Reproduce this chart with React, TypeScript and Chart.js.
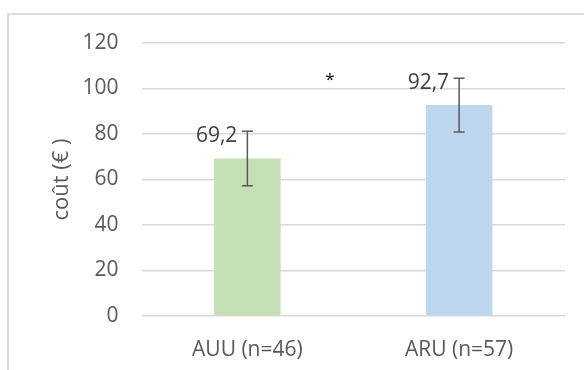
import React, { useEffect, useRef } from "react";
import { Chart, registerables } from "chart.js";

Chart.register(...registerables);

const categories = ["AUU (n=46)", "ARU (n=57)"];
const meanCost = [69.2, 92.7];
const errorCost = [12.0, 11.8];
const barColors = ["#C5E0B4", "#BDD7EE"];
const yMin = 0;
const yMax = 120;
const yStep = 20;
const yTitle = "coût (€ )";
const significanceMark = "*";

const FONT = "'Open Sans', 'Noto Sans', sans-serif";

const errorBarPlugin = {
  id: "errorBars",
  afterDatasetsDraw(chart: any) {
    const ctx = chart.ctx;
    const meta = chart.getDatasetMeta(0);
    const ys = chart.scales.y;
    const xs = chart.scales.x;
    ctx.save();
    meta.data.forEach((bar: any, i: number) => {
      const x = bar.x;
      const top = ys.getPixelForValue(meanCost[i] + errorCost[i]);
      const bot = ys.getPixelForValue(meanCost[i] - errorCost[i]);
      ctx.strokeStyle = "#595959";
      ctx.lineWidth = 1.5;
      ctx.beginPath();
      ctx.moveTo(x, top);
      ctx.lineTo(x, bot);
      ctx.moveTo(x - 5.5, top);
      ctx.lineTo(x + 5.5, top);
      ctx.moveTo(x - 5.5, bot);
      ctx.lineTo(x + 5.5, bot);
      ctx.stroke();
      ctx.font = `21px ${FONT}`;
      ctx.fillStyle = "#404040";
      ctx.textAlign = "right";
      ctx.textBaseline = "alphabetic";
      ctx.fillText(String(meanCost[i]).replace(".", ","), x - 10, top + 11);
    });
    // significance marker between the two groups
    const x0 = xs.getPixelForValue(0);
    const x1 = xs.getPixelForValue(1);
    const ax = x0 + (x1 - x0) * 0.39;
    ctx.font = `17px ${FONT}`;
    ctx.fillStyle = "#000000";
    ctx.textAlign = "center";
    ctx.textBaseline = "alphabetic";
    ctx.fillText(significanceMark, ax, ys.getPixelForValue(106) + 10);
    ctx.restore();
  },
};

export default function App() {
  const ref = useRef<HTMLCanvasElement | null>(null);

  useEffect(() => {
    if (!ref.current) return;
    const chart = new Chart(ref.current, {
      type: "bar",
      data: {
        labels: categories,
        datasets: [
          {
            data: meanCost,
            backgroundColor: barColors,
            borderWidth: 0,
            categoryPercentage: 1,
            barPercentage: 0.314,
          },
        ],
      },
      options: {
        animation: false,
        responsive: false,
        devicePixelRatio: 1,
        layout: { padding: { top: 43, right: 19, bottom: 0, left: 0 } },
        plugins: {
          legend: { display: false },
          tooltip: { enabled: false },
        },
        scales: {
          x: {
            grid: { display: false },
            border: { display: false },
            ticks: {
              color: "#595959",
              font: { family: FONT, size: 21 },
              padding: 13,
            },
            afterFit: (axis: any) => {
              axis.height = 54;
            },
          },
          y: {
            min: yMin,
            max: yMax,
            ticks: {
              stepSize: yStep,
              color: "#595959",
              font: { family: FONT, size: 21 },
              padding: 23,
            },
            grid: { color: "#D9D9D9", lineWidth: 1.5, drawTicks: false },
            border: { display: false },
            title: {
              display: true,
              text: yTitle,
              color: "#595959",
              font: { family: FONT, size: 22 },
              padding: { top: 49, bottom: 0 },
            },
            afterFit: (axis: any) => {
              axis.width = 141.5;
            },
          },
        },
      },
      plugins: [errorBarPlugin],
    });
    return () => chart.destroy();
  }, []);

  return (
    <div style={{ position: "fixed", left: 0, top: 0, width: 584, height: 370, background: "#fff", overflow: "hidden" }}>
      <div
        style={{
          position: "absolute",
          left: 7,
          top: 13,
          width: 700,
          height: 500,
          borderLeft: "2px solid #DCDCDC",
          borderTop: "2px solid #DCDCDC",
        }}
      />
      <canvas ref={ref} width={584} height={370} style={{ position: "absolute", left: 0, top: 0, width: 584, height: 370 }} />
    </div>
  );
}
